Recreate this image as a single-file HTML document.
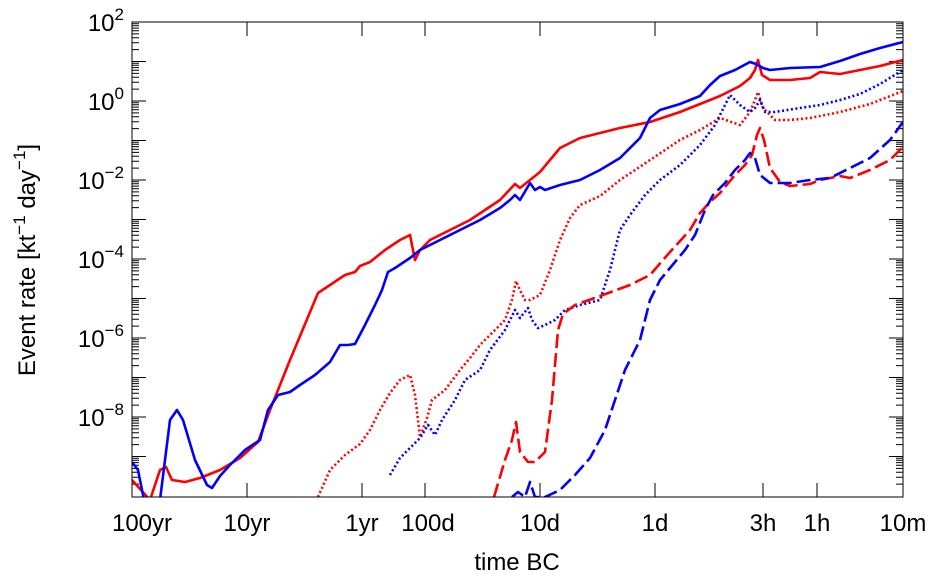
<!DOCTYPE html>
<html><head><style>body{margin:0;background:#fff}svg{display:block}</style></head><body>
<svg width="938" height="582" viewBox="0 0 938 582" xmlns="http://www.w3.org/2000/svg" font-family="Liberation Sans, sans-serif">
<defs>
<clipPath id="c"><rect x="132" y="22" width="771" height="475"/></clipPath>
<g id="dec" stroke="#000" stroke-width="1">
<line x1="132" x2="146" y1="0" y2="0"/><line x1="903" x2="889" y1="0" y2="0"/>
<path d="M132 27.6h7M132 20.7h7M132 15.7h7M132 11.9h7M132 8.8h7M132 6.1h7M132 3.8h7M132 1.8h7M903 27.6h-7M903 20.7h-7M903 15.7h-7M903 11.9h-7M903 8.8h-7M903 6.1h-7M903 3.8h-7M903 1.8h-7"/>
</g>
</defs>
<use href="#dec" y="22"/><use href="#dec" y="61.5"/><use href="#dec" y="101"/><use href="#dec" y="140.5"/>
<use href="#dec" y="180"/><use href="#dec" y="219.5"/><use href="#dec" y="259"/><use href="#dec" y="298.5"/>
<use href="#dec" y="338"/><use href="#dec" y="377.5"/><use href="#dec" y="417"/><use href="#dec" y="456.5"/>
<path stroke="#000" stroke-width="1" d="M132 497v-14M247 497v-14M362 497v-14M425 497v-14M540 497v-14M655 497v-14M763 497v-14M817 497v-14M903 497v-14M132 22v14M247 22v14M362 22v14M425 22v14M540 22v14M655 22v14M763 22v14M817 22v14M903 22v14"/>
<g clip-path="url(#c)" fill="none" stroke-width="2.6" stroke-linejoin="round">
<polyline stroke="#f00" points="132,480 150,500 160,470 166,467 172,480 185,482 200,478 220,470 240,458 258,442 270,410 290,360 318,293 330,285 345,275 355,272 360,266 370,262 385,250 400,240 410,235 415,260 420,250 430,240 450,230 470,220 485,210 500,200 515,184 520,188 530,180 540,172 550,160 560,148 580,138 600,133 620,128 650,122 680,112 700,104 720,96 740,86 750,78 755,70 758,60 762,75 770,80 790,80 810,78 820,72 840,74 860,70 880,66 903,60"/>
<polyline stroke="#00f" points="132,462 138,470 144,500 150,500 160,500 170,420 177,410 183,420 195,460 207,485 212,488 220,476 230,465 245,450 260,440 268,410 278,395 290,392 300,385 315,375 330,362 340,345 348,345 355,344 365,325 375,305 382,290 388,272 395,268 410,258 420,250 440,240 460,230 480,220 500,208 510,200 515,195 520,200 530,183 535,190 540,187 545,190 560,185 580,180 600,170 620,158 640,138 650,118 660,110 680,104 700,96 710,85 720,76 735,70 750,62 756,64 763,68 770,70 790,68 820,67 840,61 860,54 880,48 903,42"/>
<polyline stroke="#f00" stroke-dasharray="2 2.5" points="318,497 330,470 345,455 360,444 370,430 380,410 390,393 400,380 410,375 415,395 420,437 427,418 432,400 445,390 460,370 470,358 480,345 495,330 505,320 512,300 516,281 520,290 525,300 530,300 540,295 550,270 560,240 570,218 580,205 600,196 620,180 650,160 680,140 700,130 720,118 740,125 750,112 755,100 758,92 763,108 775,120 790,120 810,118 840,112 870,104 903,91"/>
<polyline stroke="#00f" stroke-dasharray="2 2.5" points="390,475 400,458 410,448 420,438 428,425 435,435 442,420 455,400 465,380 480,370 490,350 505,330 515,310 520,318 528,308 532,320 538,328 545,325 555,320 565,310 580,305 600,300 610,270 620,230 630,215 645,195 660,180 680,165 700,145 715,125 725,105 730,95 740,105 750,112 755,108 760,100 765,112 775,112 800,108 820,105 840,100 860,94 880,84 903,70"/>
<polyline stroke="#f00" stroke-dasharray="14 5" points="494,497 505,460 512,440 516,422 520,452 528,462 535,462 545,452 552,400 558,330 563,314 575,305 600,296 630,285 650,275 670,252 690,230 700,213 710,202 720,193 735,175 745,165 752,155 757,135 760,128 764,140 770,168 780,182 790,186 810,184 820,180 840,176 850,178 870,170 890,160 903,147"/>
<polyline stroke="#00f" stroke-dasharray="14 5" points="512,497 518,492 525,497 530,482 535,497 545,497 560,490 575,475 590,458 605,430 615,400 625,370 640,340 650,300 660,280 675,262 685,250 695,235 705,210 713,195 725,183 735,170 745,160 750,153 755,158 760,175 770,183 790,183 810,180 830,178 850,168 870,158 890,140 903,122"/>
</g>
<rect x="132" y="22" width="771" height="475" fill="none" stroke="#000" stroke-width="1"/>
<g font-size="24" fill="#000">
<text x="124" y="31" text-anchor="end">10<tspan dy="-11" font-size="17">2</tspan></text>
<text x="124" y="110" text-anchor="end">10<tspan dy="-11" font-size="17">0</tspan></text>
<text x="124" y="189" text-anchor="end">10<tspan dy="-11" font-size="17">−2</tspan></text>
<text x="124" y="268" text-anchor="end">10<tspan dy="-11" font-size="17">−4</tspan></text>
<text x="124" y="347" text-anchor="end">10<tspan dy="-11" font-size="17">−6</tspan></text>
<text x="124" y="426" text-anchor="end">10<tspan dy="-11" font-size="17">−8</tspan></text>
<g text-anchor="middle">
<text x="142" y="531">100yr</text><text x="247" y="531">10yr</text><text x="362" y="531">1yr</text>
<text x="428" y="531">100d</text><text x="540" y="531">10d</text><text x="655" y="531">1d</text>
<text x="763" y="531">3h</text><text x="817" y="531">1h</text><text x="903" y="531">10m</text>
<text x="517" y="570">time BC</text>
</g>
<text transform="translate(35,260) rotate(-90)" text-anchor="middle">Event rate [kt<tspan dy="-10" font-size="17">−1</tspan><tspan dy="10"> day</tspan><tspan dy="-10" font-size="17">−1</tspan><tspan dy="10">]</tspan></text>
</g>
</svg>
</body></html>
